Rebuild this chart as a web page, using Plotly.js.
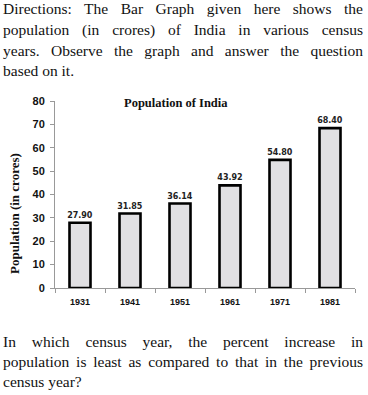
<!DOCTYPE html>
<html>
<head>
<meta charset="utf-8">
<script src="https://cdn.plot.ly/plotly-3.0.1.min.js"></script>
<style>
  html, body { margin: 0; padding: 0; background: #fff; }
  #wrap { position: relative; width: 368px; height: 395px; overflow: hidden; }
  #chart { position: absolute; left: 0; top: 0; width: 368px; height: 395px; }
  .para { position: absolute; left: 3px; width: 360px; font-family: "Liberation Serif", serif; font-size: 15.5px; color: #111; z-index: 2; }
  .para div { white-space: nowrap; line-height: 17px; }
  .para .j { text-align: justify; text-align-last: justify; white-space: normal; }
</style>
</head>
<body>
<div id="wrap">
  <div id="chart"></div>
  <div class="para" id="intro" style="top:0px;"></div>
  <div class="para" id="question" style="top:333px;"></div>
</div>
<script>
// ---- data ----
const years = ['1931', '1941', '1951', '1961', '1971', '1981'];
const population = [27.90, 31.85, 36.14, 43.92, 54.80, 68.40];
const yTicks = [0, 10, 20, 30, 40, 50, 60, 70, 80];
const chartTitle = 'Population of India';
const yTitle = 'Population (in crores)';
const introLines = [
  'Directions: The Bar Graph given here shows the',
  'population (in crores) of India in various census',
  'years. Observe the graph and answer the question',
  'based on it.'
];
const questionLines = [
  'In which census year, the percent increase in',
  'population is least as compared to that in the previous',
  'census year?'
];

function fillPara(id, lines, rowH) {
  const el = document.getElementById(id);
  lines.forEach((t, i) => {
    const d = document.createElement('div');
    if (i < lines.length - 1) d.className = 'j';
    d.style.height = rowH + 'px';
    d.textContent = t;
    el.appendChild(d);
  });
}
fillPara('intro', introLines, 20.8);
fillPara('question', questionLines, 20);

const trace = {
  type: 'bar',
  x: years,
  y: population,
  width: 0.42,
  text: population.map(v => v.toFixed(2)),
  textposition: 'outside',
  constraintext: 'none',
  cliponaxis: false,
  textfont: { family: 'DejaVu Sans', size: 8, color: '#222', weight: 'bold' },
  marker: {
    color: '#e1e0e3',
    line: { color: '#000', width: 2.6 }
  },
  hoverinfo: 'none'
};

const layout = {
  width: 368,
  height: 395,
  margin: { l: 55, r: 13, t: 101, b: 107 },
  paper_bgcolor: '#fff',
  plot_bgcolor: '#fff',
  showlegend: false,
  xaxis: {
    type: 'category',
    showline: true,
    linecolor: '#999',
    linewidth: 1,
    ticks: 'outside',
    tickson: 'boundaries',
    ticklen: 4,
    tickcolor: '#999',
    ticklabelstandoff: 5,
    tickfont: { family: 'Liberation Sans', size: 9, color: '#111', weight: 'bold' },
    showgrid: false,
    zeroline: false
  },
  yaxis: {
    range: [0, 80],
    tickvals: yTicks,
    showline: true,
    linecolor: '#999',
    linewidth: 1,
    ticks: 'outside',
    ticklen: 4,
    tickcolor: '#999',
    ticklabelstandoff: 3,
    tickfont: { family: 'Liberation Sans', size: 11, color: '#111', weight: 'bold' },
    showgrid: false,
    zeroline: false
  },
  annotations: [
    {
      text: chartTitle,
      xref: 'paper', yref: 'paper',
      x: (176 - 55) / 300, y: (288 - 103) / 187,
      xanchor: 'center', yanchor: 'middle',
      showarrow: false,
      font: { family: 'Liberation Serif', size: 12.5, color: '#111', weight: 'bold' }
    },
    {
      text: yTitle,
      xref: 'paper', yref: 'paper',
      x: (14 - 55) / 300, y: (288 - 214) / 187,
      xanchor: 'center', yanchor: 'middle',
      textangle: -90,
      showarrow: false,
      font: { family: 'Liberation Serif', size: 13, color: '#111', weight: 'bold' }
    }
  ]
};

Plotly.newPlot('chart', [trace], layout, { displayModeBar: false, staticPlot: true });
</script>
</body>
</html>
